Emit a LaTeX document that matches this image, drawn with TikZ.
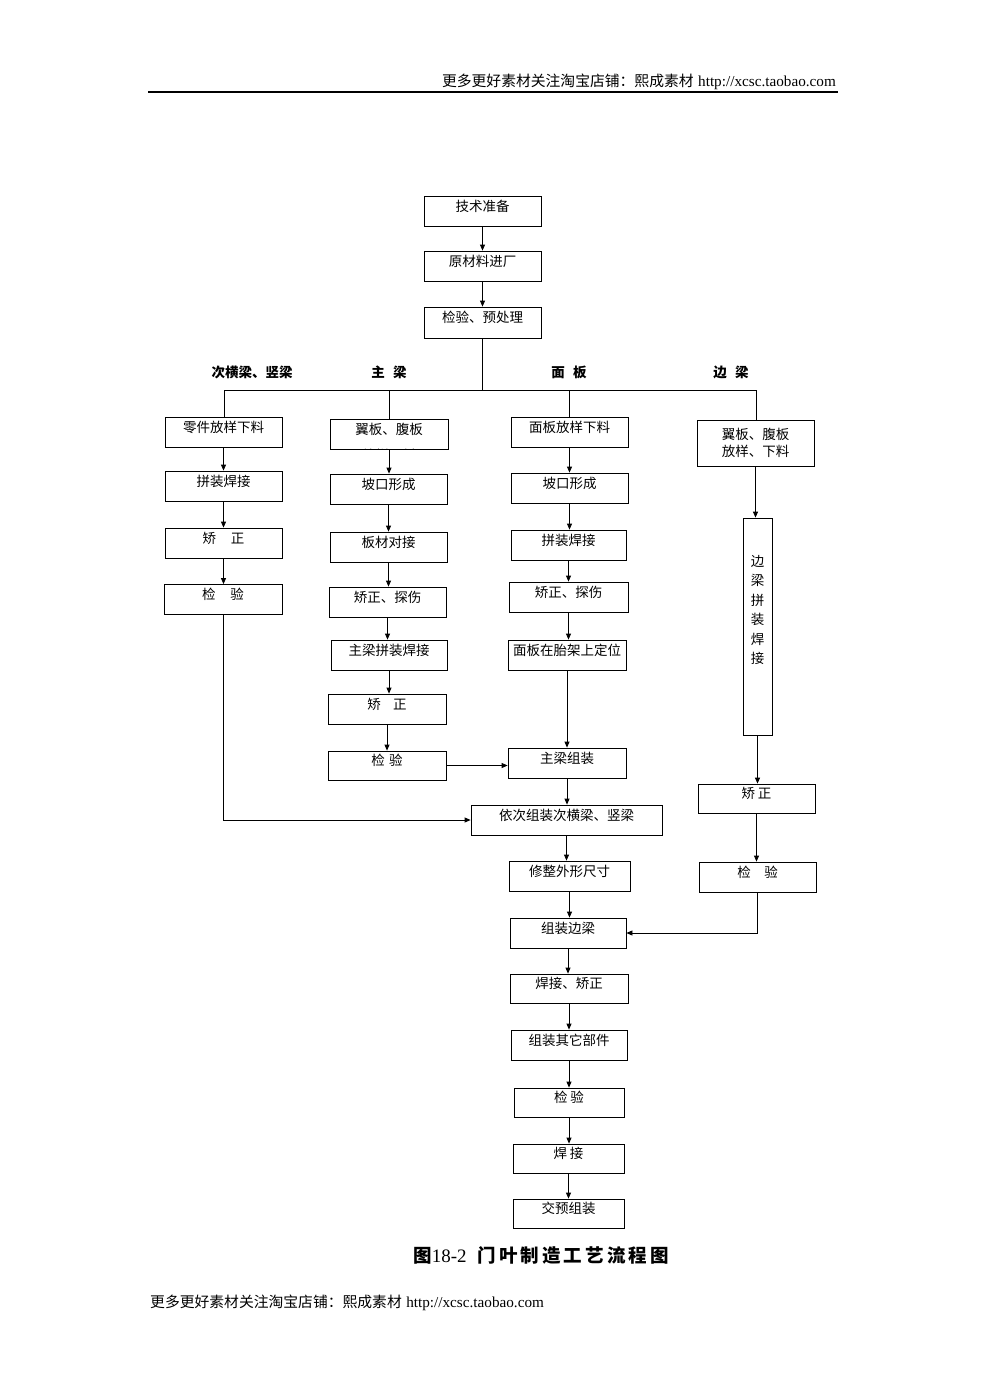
\documentclass[tikz,border=0pt]{standalone}
\usepackage{fontspec}
\setmainfont{Liberation Serif}
\newfontfamily\cjk{Noto Sans CJK SC}
\usetikzlibrary{arrows.meta}
\tikzset{
  box/.style={draw, line width=0.8pt, minimum height=30pt, inner sep=0pt,
    text height=8pt, text depth=8pt, font=\cjk\fontsize{13.5}{16}\selectfont},
  lbl/.style={inner sep=0pt, font=\cjk\fontsize{13.5}{16}\selectfont},
  hdr/.style={inner sep=0pt, font=\cjk\bfseries\fontsize{13.5}{16}\selectfont},
  ln/.style={line width=0.8pt},
  arr/.style={line width=0.8pt, -{Triangle[width=5pt,length=6pt]}},
}
\newcommand\bx[6]{\node[box, minimum width=#4pt, minimum height=#5pt] (#1) at (#2,#3) {#6};}
\newcommand\wmark{{\cjk\fontsize{14.8}{16}\selectfont 更多更好素材关注淘宝店铺：熙成素材}\hspace{0.45em}{\fontsize{15.2}{16}\selectfont http://xcsc.taobao.com}}
\begin{document}
\begin{tikzpicture}[x=1pt,y=-1pt]
\useasboundingbox (0,0) rectangle (985,1393);
% header / footer
\node[inner sep=0pt, anchor=base east] (head) at (836,86) {\wmark};
\coordinate (rl) at (148,92); \coordinate (rr) at (838,92);
\draw[line width=1.3pt] (rl) -- (rr);
\node[inner sep=0pt, anchor=base west] (foot) at (150,1307) {\wmark};
% caption
\node[inner sep=0pt] (cap) at (541,1255)
  {{\cjk\bfseries\fontsize{18.5}{20}\selectfont 图}{\fontsize{19}{20}\selectfont 18-2}\hspace{1.1em}{\cjk\bfseries\fontsize{18.5}{20}\selectfont 门\,叶\,制\,造\,工\,艺\,流\,程\,图}};
% top chain
\bx{t1}{482.5}{211}{117}{30}{技术准备}
\bx{t2}{482.5}{266}{117}{30}{原材料进厂}
\bx{t3}{482.5}{322.5}{117}{31}{检验、预处理}
% column headers
\node[hdr] (h1) at (252,372) {次横梁、竖梁};
\node[hdr] (h2) at (389,372) {主\hspace{0.6em}梁};
\node[hdr] (h3) at (569,372) {面\hspace{0.6em}板};
\node[hdr] (h4) at (731,372) {边\hspace{0.6em}梁};
% column 1
\bx{a1}{223.5}{432}{117}{30}{零件放样下料}
\bx{a2}{223.5}{486}{117}{30}{拼装焊接}
\bx{a3}{223.5}{543}{117}{30}{矫\hspace{1.1em}正}
\bx{a4}{223}{599.5}{118}{30}{检\hspace{1.1em}验}
% column 2
\bx{b1}{389}{434}{118}{30}{翼板、腹板}
\begin{scope}
\clip ([xshift=0.5pt,yshift=-0.5pt]b1.south west) rectangle ([xshift=-0.5pt]b1.north east);
\node[lbl] (b1x) at (389,455) {放样下料};
\end{scope}
\bx{b2}{388.5}{489}{117}{30}{坡口形成}
\bx{b3}{388.5}{547}{117}{30}{板材对接}
\bx{b4}{387.5}{602}{117}{30}{矫正、探伤}
\bx{b5}{389}{655}{116}{30}{主梁拼装焊接}
\bx{b6}{387}{709}{118}{30}{矫\hspace{0.9em}正}
\bx{b7}{387}{765.5}{118}{29}{检\hspace{0.3em}验}
% column 3
\bx{c1}{569.5}{432}{117}{30}{面板放样下料}
\bx{c2}{569.5}{488}{117}{30}{坡口形成}
\bx{c3}{568.5}{545}{115}{30}{拼装焊接}
\bx{c4}{568.5}{597}{119}{30}{矫正、探伤}
\bx{c5}{567}{655}{118}{30}{面板在胎架上定位}
\bx{c6}{567}{763}{118}{30}{主梁组装}
\bx{c7}{566.5}{820}{191}{30}{依次组装次横梁、竖梁}
\bx{c8}{569.5}{876}{121}{30}{修整外形尺寸}
\bx{c9}{568}{933}{116}{30}{组装边梁}
\bx{c10}{569}{988.5}{118}{29}{焊接、矫正}
\bx{c11}{569}{1045}{116}{30}{组装其它部件}
\bx{c12}{569}{1102.5}{110}{29}{检\hspace{0.2em}验}
\bx{c13}{568.5}{1158.5}{111}{29}{焊\hspace{0.2em}接}
\bx{c14}{568.5}{1213.5}{111}{29}{交预组装}
% column 4
\node[draw, line width=0.8pt, minimum width=117pt, minimum height=46pt, inner sep=0pt, align=center,
  font=\cjk\fontsize{13.5}{19}\selectfont] (d1) at (755.5,443) {翼板、腹板\\[-2pt]放样、下料};
\node[draw, line width=0.8pt, minimum width=29pt, minimum height=217pt, inner sep=0pt] (d2) at (757.5,626.5) {};
\node[lbl, align=center, font=\cjk\fontsize{13.5}{19.5}\selectfont, anchor=north] (d2t) at (757.5,555) {边\\梁\\拼\\装\\焊\\接};
\bx{d3}{756.5}{798.5}{117}{29}{矫\hspace{0.2em}正}
\bx{d4}{757.5}{877}{117}{30}{检\hspace{1em}验}
% distribution
\coordinate (hL) at (224,390);
\coordinate (hB) at (389,390);
\coordinate (hC) at (569,390);
\coordinate (hR) at (756,390);
\draw[ln] (t3.south) -- (t3.south |- hL);
\draw[ln] (hL) -- (hR);
\draw[ln] (hL) -- (hL |- a1.north);
\draw[ln] (hB) -- (hB |- b1.north);
\draw[ln] (hC) -- (hC |- c1.north);
\draw[ln] (hR) -- (hR |- d1.north);
% top arrows
\draw[arr] (t1.south) -- (t1.south |- t2.north);
\draw[arr] (t2.south) -- (t2.south |- t3.north);
% column 1 arrows
\draw[arr] (a1.south) -- (a1.south |- a2.north);
\draw[arr] (a2.south) -- (a2.south |- a3.north);
\draw[arr] (a3.south) -- (a3.south |- a4.north);
\draw[arr] (a4.south) |- (c7.west);
% column 2 arrows
\draw[arr] (b1.south) -- (b1.south |- b2.north);
\draw[arr] (b2.south) -- (b2.south |- b3.north);
\draw[arr] (b3.south) -- (b3.south |- b4.north);
\draw[arr] (b4.south) -- (b4.south |- b5.north);
\draw[arr] (b5.south) -- (b5.south |- b6.north);
\draw[arr] (b6.south) -- (b6.south |- b7.north);
\draw[arr] (b7.east) -- (b7.east -| c6.west);
% column 3 arrows
\draw[arr] (c1.south) -- (c1.south |- c2.north);
\draw[arr] (c2.south) -- (c2.south |- c3.north);
\draw[arr] (c3.south) -- (c3.south |- c4.north);
\draw[arr] (c4.south) -- (c4.south |- c5.north);
\draw[arr] (c5.south) -- (c5.south |- c6.north);
\draw[arr] (c6.south) -- (c6.south |- c7.north);
\draw[arr] (c7.south) -- (c7.south |- c8.north);
\draw[arr] (c8.south) -- (c8.south |- c9.north);
\draw[arr] (c9.south) -- (c9.south |- c10.north);
\draw[arr] (c10.south) -- (c10.south |- c11.north);
\draw[arr] (c11.south) -- (c11.south |- c12.north);
\draw[arr] (c12.south) -- (c12.south |- c13.north);
\draw[arr] (c13.south) -- (c13.south |- c14.north);
% column 4 arrows
\draw[arr, line width=1.1pt] (d1.south) -- (d1.south |- d2.north);
\draw[arr, line width=1.1pt] (d2.south) -- (d2.south |- d3.north);
\draw[arr] (d3.south) -- (d3.south |- d4.north);
\draw[arr] (d4.south) |- (c9.east);
\end{tikzpicture}
\end{document}
